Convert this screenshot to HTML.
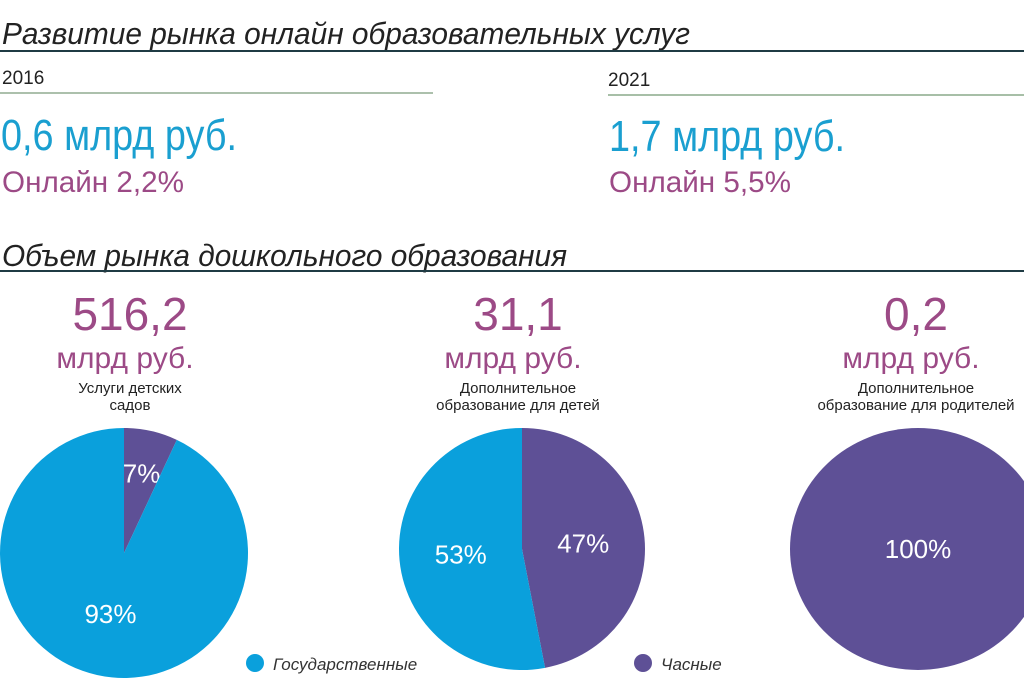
<!DOCTYPE html>
<html><head><meta charset="utf-8"><style>
html,body{margin:0;padding:0;background:#fff;}
svg{display:block;font-family:"Liberation Sans Narrow","Liberation Sans",sans-serif;}
</style></head><body>
<svg width="1024" height="695" viewBox="0 0 1024 695">
<text x="2" y="44" font-size="31" font-style="italic" fill="#222" textLength="688" lengthAdjust="spacingAndGlyphs">Развитие  рынка онлайн образовательных услуг</text>
<line x1="0" y1="51" x2="1024" y2="51" stroke="#1f3b44" stroke-width="2"/>
<text x="2" y="84" font-size="19" fill="#222">2016</text>
<line x1="0" y1="93" x2="433" y2="93" stroke="#7a9a7a" stroke-width="1.2"/>
<text x="608" y="86" font-size="19" fill="#222">2021</text>
<line x1="608" y1="95" x2="1024" y2="95" stroke="#8aaa8a" stroke-width="1.5"/>
<text x="1" y="150" font-size="44" fill="#1a9fd0" textLength="236" lengthAdjust="spacingAndGlyphs">0,6 млрд руб.</text>
<text x="2" y="192" font-size="30" fill="#9c4a86" textLength="182" lengthAdjust="spacingAndGlyphs">Онлайн 2,2%</text>
<text x="609" y="151" font-size="44" fill="#1a9fd0" textLength="236" lengthAdjust="spacingAndGlyphs">1,7 млрд руб.</text>
<text x="609" y="192" font-size="30" fill="#9c4a86" textLength="182" lengthAdjust="spacingAndGlyphs">Онлайн 5,5%</text>
<text x="2" y="266" font-size="31" font-style="italic" fill="#222" textLength="565" lengthAdjust="spacingAndGlyphs">Объем рынка дошкольного образования</text>
<line x1="0" y1="271" x2="1024" y2="271" stroke="#1f3b44" stroke-width="2"/>
<g id="pies"></g>
<circle cx="255" cy="663" r="9" fill="#0aa0dc"/>
<text x="273" y="670" font-size="17" font-style="italic" fill="#333">Государственные</text>
<circle cx="643" cy="663" r="9" fill="#5e5096"/>
<text x="661" y="670" font-size="17" font-style="italic" fill="#333">Часные</text>
</svg>
<script>
const categories=["Услуги детских садов","Дополнительное образование для детей","Дополнительное образование для родителей"];
const totals=["516,2","31,1","0,2"];
const privateShare=[7,47,100];
const stateShare=[93,53,0];
const captions=[["Услуги детских","садов"],["Дополнительное","образование для детей"],["Дополнительное","образование для родителей"]];
const NS="http://www.w3.org/2000/svg";
const g=document.getElementById('pies');
const centers=[[124,553,124,125],[522,549,123,121],[918,549,128,121]];
const headX=[130,518,916];
function mk(t,a){const e=document.createElementNS(NS,t);for(const k in a)e.setAttribute(k,a[k]);g.appendChild(e);return e;}
function pt(c,frac){const a=frac*2*Math.PI;return [c[0]+c[2]*Math.sin(a),c[1]-c[3]*Math.cos(a)];}
categories.forEach((cat,i)=>{
  const c=centers[i];
  let t=mk('text',{x:headX[i],y:330,'font-size':46,fill:'#9c4a86','text-anchor':'middle'});t.textContent=totals[i];
  
  
  t=mk('text',{x:headX[i]-5,y:368,'font-size':30,fill:'#9c4a86','text-anchor':'middle'});t.textContent='млрд руб.';
  
  
  captions[i].forEach((l,j)=>{const s=mk('text',{x:headX[i],y:393+j*17,'font-size':15,fill:'#222','text-anchor':'middle'});s.textContent=l;
    
    });
  const p=privateShare[i]/100;
  const segs=[[0,p,'#5e5096',privateShare[i]],[p,1,'#0aa0dc',stateShare[i]]];
  segs.forEach((s,k)=>{
    if(s[1]-s[0]<=0)return;
    let el;
    if(s[1]-s[0]>=0.9999){el=mk('ellipse',{cx:c[0],cy:c[1],rx:c[2],ry:c[3],fill:s[2]});}
    else{const a=pt(c,s[0]),b=pt(c,s[1]);const large=(s[1]-s[0])>0.5?1:0;
      el=mk('path',{d:`M${c[0]},${c[1]}L${a[0]},${a[1]}A${c[2]},${c[3]} 0 ${large} 1 ${b[0]},${b[1]}Z`,fill:s[2]});}
    
    
    const mid=(s[0]+s[1])/2;const full=s[1]-s[0]>=0.9999;
    const rf=full?0:(s[1]-s[0]<0.15?0.65:0.5);
    const lp=[c[0]+c[2]*rf*Math.sin(mid*2*Math.PI),c[1]-c[3]*rf*Math.cos(mid*2*Math.PI)];
    const lt=mk('text',{x:lp[0],y:lp[1]+9,'font-size':26,fill:'#fff','text-anchor':'middle'});lt.textContent=s[3]+'%';
    
    
  });
});
</script>
</body></html>
